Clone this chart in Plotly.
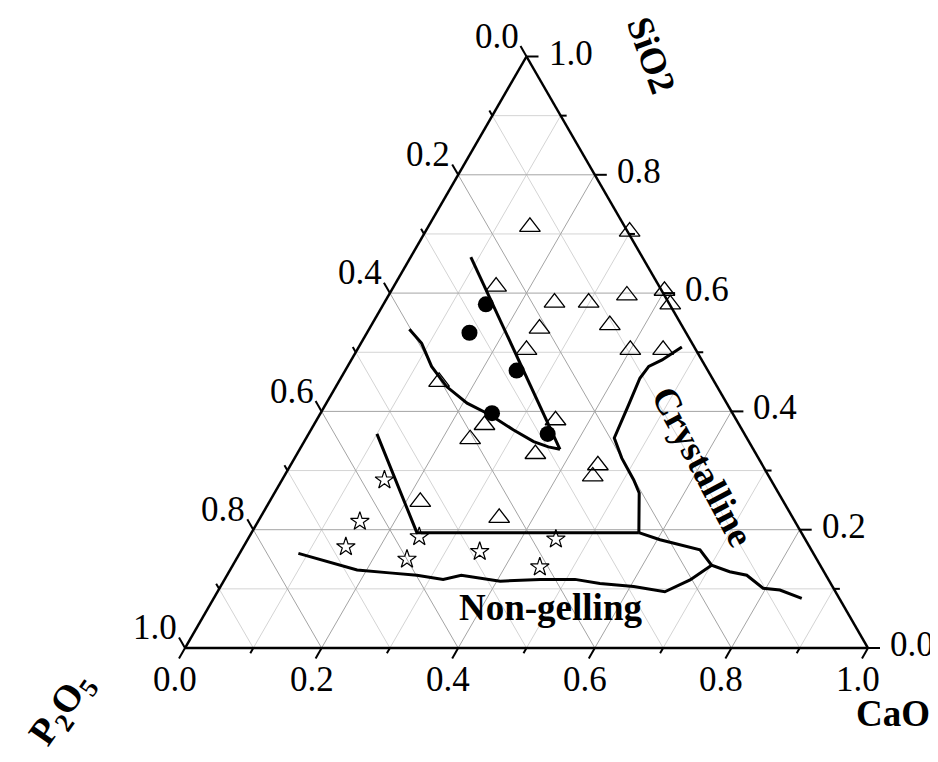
import math
import plotly.graph_objects as go

# ---------------- data (mole fractions, P2O5 = 1 - CaO - SiO2) ----------------
tri_cao = [0.149, 0.299, 0.150, 0.249, 0.299, 0.349, 0.400, 0.420, 0.249, 0.349, 0.248,
           0.400, 0.448, 0.147, 0.350, 0.250, 0.241, 0.349, 0.450, 0.452, 0.221, 0.350]
tri_sio2 = [0.712, 0.704, 0.611, 0.584, 0.584, 0.596, 0.604, 0.581, 0.540, 0.546, 0.504,
            0.504, 0.504, 0.450, 0.385, 0.377, 0.353, 0.328, 0.309, 0.290, 0.247, 0.220]

dot_cao = [0.150, 0.150, 0.251, 0.251, 0.350]
dot_sio2 = [0.581, 0.533, 0.469, 0.397, 0.362]

star_cao = [0.150, 0.149, 0.150, 0.249, 0.250, 0.350, 0.451, 0.451]
star_sio2 = [0.284, 0.214, 0.171, 0.188, 0.150, 0.163, 0.184, 0.137]

lineA_cao = [0.088, 0.381]
lineA_sio2 = [0.661, 0.336]

curveB_cao = [0.059, 0.089, 0.123, 0.162, 0.206, 0.250, 0.296, 0.336, 0.362, 0.381]
curveB_sio2 = [0.539, 0.515, 0.476, 0.442, 0.414, 0.394, 0.369, 0.349, 0.340, 0.336]

lineC_cao = [0.100, 0.242, 0.567]
lineC_sio2 = [0.362, 0.195, 0.195]

curveD_cao = [0.473, 0.462, 0.455, 0.441, 0.438, 0.444, 0.451, 0.479, 0.515, 0.534, 0.567]
curveD_sio2 = [0.509, 0.495, 0.487, 0.476, 0.456, 0.411, 0.355, 0.321, 0.284, 0.262, 0.195]

lineE_cao = [0.567, 0.604, 0.671, 0.701, 0.733, 0.761, 0.796, 0.822, 0.861]
lineE_sio2 = [0.195, 0.183, 0.166, 0.140, 0.129, 0.123, 0.101, 0.098, 0.084]

curveF_cao = [0.086, 0.186, 0.236, 0.278, 0.320, 0.343, 0.405, 0.462, 0.513, 0.553,
              0.605, 0.655, 0.682, 0.701]
curveF_sio2 = [0.160, 0.132, 0.127, 0.123, 0.116, 0.123, 0.113, 0.116, 0.116, 0.109,
               0.104, 0.095, 0.115, 0.140]

tick_values = [0.0, 0.1, 0.2, 0.3, 0.4, 0.5, 0.6, 0.7, 0.8, 0.9, 1.0]
major_values = [0.0, 0.2, 0.4, 0.6, 0.8, 1.0]
tick_labels = ["0.0", "0.2", "0.4", "0.6", "0.8", "1.0"]

# ---------------- helpers ----------------
S3 = math.sqrt(3) / 2
PX = 1 / 683.0          # data units per pixel
FONT = "Liberation Serif"
OFF = 8                 # page body margin
FW, FH = 938 - OFF, 762 - 2 * OFF
X0, Y0 = 185 - OFF, 648 - OFF   # bottom-left vertex in figure pixels


def xy(cao, sio2):
    xs = [None if c is None else c + s / 2 for c, s in zip(cao, sio2)]
    ys = [None if s is None else s * S3 for s in sio2]
    return xs, ys


fig = go.Figure()


def add_segments(segs, color, width):
    cs, ss = [], []
    for (c1, s1), (c2, s2) in segs:
        cs += [c1, c2, None]
        ss += [s1, s2, None]
    x, y = xy(cs, ss)
    fig.add_trace(go.Scatter(x=x, y=y, mode="lines", line=dict(color=color, width=width),
                             hoverinfo="skip", showlegend=False))


def grid_segs(vals):
    segs = []
    for v in vals:
        segs.append(((0, v), (1 - v, v)))          # const SiO2
        segs.append(((v, 0), (v, 1 - v)))          # const CaO
        segs.append(((1 - v, 0), (0, 1 - v)))      # const P2O5
    return segs


inner = [v for v in tick_values if 0 < v < 1]
minor_inner = [v for v in inner if v not in major_values]
major_inner = [v for v in inner if v in major_values]
add_segments(grid_segs(minor_inner), "#d4d4d4", 1)
add_segments(grid_segs(major_inner), "#a4a4a4", 1)

# triangle frame
add_segments([((0, 0), (1, 0)), ((1, 0), (0, 1)), ((0, 1), (0, 0))], "black", 2.5)

# ticks (in cartesian space)
tx, ty = [], []
for v in tick_values:
    L = (12 if v in major_values else 6) * PX
    # left axis: P2O5 = v
    bx, by = (1 - v) / 2, (1 - v) * S3
    tx += [bx, bx - 0.5 * L, None]
    ty += [by, by + S3 * L, None]
    # bottom axis: CaO = v
    tx += [v, v - 0.5 * L, None]
    ty += [0, -S3 * L, None]
    # right axis: SiO2 = v
    rx, ry = 1 - v / 2, v * S3
    tx += [rx, rx + L, None]
    ty += [ry, ry, None]
fig.add_trace(go.Scatter(x=tx, y=ty, mode="lines", line=dict(color="black", width=2),
                         hoverinfo="skip", showlegend=False))

# data lines
for cc, ss in [(lineA_cao, lineA_sio2), (curveB_cao, curveB_sio2), (lineC_cao, lineC_sio2),
               (curveD_cao, curveD_sio2), (lineE_cao, lineE_sio2), (curveF_cao, curveF_sio2)]:
    x, y = xy(cc, ss)
    fig.add_trace(go.Scatter(x=x, y=y, mode="lines", line=dict(color="black", width=3),
                             hoverinfo="skip", showlegend=False))

# markers
x, y = xy(tri_cao, tri_sio2)
fig.add_trace(go.Scatter(x=x, y=y, mode="markers", showlegend=False,
                         marker=dict(symbol="triangle-up-open", size=18, color="black",
                                     line=dict(color="black", width=1.3))))
x, y = xy(dot_cao, dot_sio2)
fig.add_trace(go.Scatter(x=x, y=y, mode="markers", showlegend=False,
                         marker=dict(symbol="circle", size=16, color="black")))
x, y = xy(star_cao, star_sio2)
fig.add_trace(go.Scatter(x=x, y=y, mode="markers", showlegend=False,
                         marker=dict(symbol="star-open", size=14, color="black",
                                     line=dict(color="black", width=1.2))))

# tick labels
ann = []
tfont = dict(family=FONT, size=35, color="black")
L = 12 * PX
for v, lab in zip(major_values, tick_labels):
    bx, by = (1 - v) / 2, (1 - v) * S3
    ann.append(dict(x=bx - 0.5 * L, y=by + S3 * L, text=lab, showarrow=False, font=tfont,
                    xanchor="right", yanchor="middle", xshift=0, yshift=10))
    ann.append(dict(x=v - 0.5 * L, y=-S3 * L, text=lab, showarrow=False, font=tfont,
                    xanchor="center", yanchor="middle", xshift=-4, yshift=-21))
    rx, ry = 1 - v / 2, v * S3
    ann.append(dict(x=rx + L, y=ry, text=lab, showarrow=False, font=tfont,
                    xanchor="left", yanchor="middle", xshift=8, yshift=3.5))

bfont = dict(family=FONT, size=37, color="black")


def pix(px, py):
    return dict(xref="paper", yref="paper", x=(px - OFF) / FW, y=1 - (py - OFF) / FH)


ann.append(dict(**pix(652, 55), text="<b>SiO2</b>", textangle=70, showarrow=False, font=bfont,
                xanchor="center", yanchor="middle"))
ann.append(dict(**pix(893, 713), text="<b>CaO</b>", showarrow=False, font=bfont,
                xanchor="center", yanchor="middle"))
ann.append(dict(**pix(62, 710), text="<b>P<sub>2</sub>O<sub>5</sub></b>", textangle=-55,
                showarrow=False, font=dict(family=FONT, size=38, color="black"),
                xanchor="center", yanchor="middle"))
ann.append(dict(**pix(703, 466), text="<b>Crystalline</b>", textangle=62, showarrow=False,
                font=bfont, xanchor="center", yanchor="middle"))
ann.append(dict(**pix(550, 607), text="<b>Non-gelling</b>", showarrow=False, font=bfont,
                xanchor="center", yanchor="middle"))

fig.update_layout(
    width=FW, height=FH,
    margin=dict(l=0, r=0, t=0, b=0),
    paper_bgcolor="white", plot_bgcolor="white",
    xaxis=dict(range=[-X0 / 683, (FW - X0) / 683], visible=False, fixedrange=True),
    yaxis=dict(range=[(Y0 - FH) / 683, Y0 / 683], visible=False, fixedrange=True),
    annotations=ann,
    showlegend=False,
)

fig.write_html("out.html")
